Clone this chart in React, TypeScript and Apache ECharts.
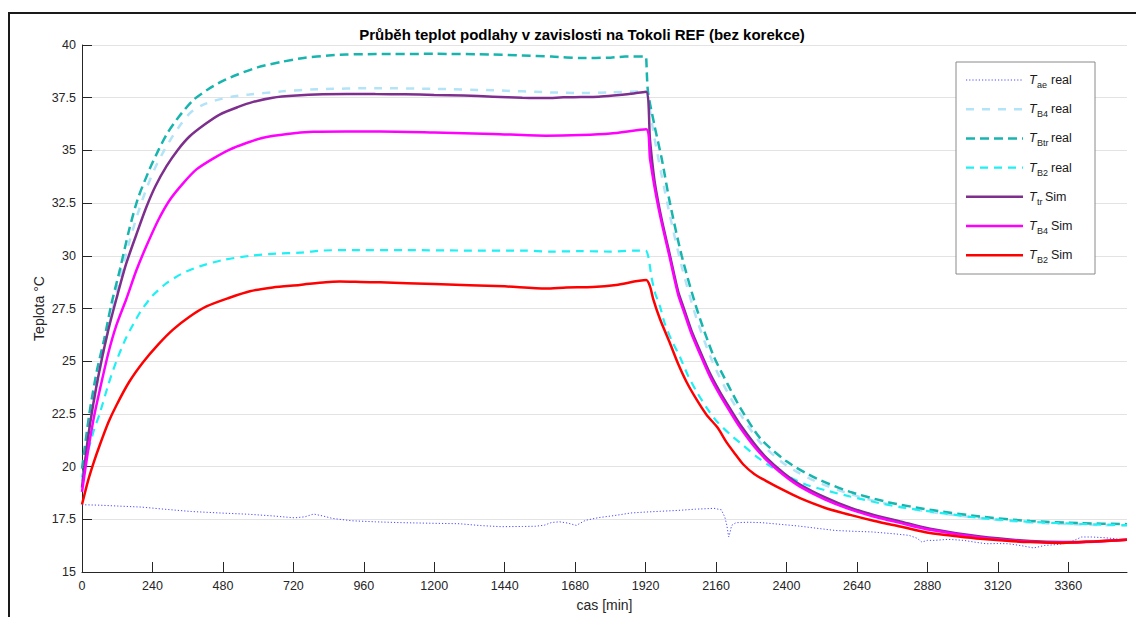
import React, { useEffect, useRef } from 'react';
import * as echarts from 'echarts';

const xTickValues = [0, 240, 480, 720, 960, 1200, 1440, 1680, 1920, 2160, 2400, 2640, 2880, 3120, 3360];
const xMax = 3560;
const yMin = 15;
const yMax = 40;
const yStep = 2.5;

const titleText = 'Průběh teplot podlahy v zavislosti na Tokoli REF (bez korekce)';
const xName = 'cas [min]';
const yName = 'Teplota °C';

// [time min, temperature °C]
const tAeReal: [number, number][] = [
  [0, 18.19], [60, 18.17], [120, 18.13], [202, 18.08], [280, 17.98], [372, 17.87], [470, 17.8], [567, 17.74],
  [650, 17.66], [724, 17.57], [760, 17.62], [789, 17.75], [820, 17.66], [854, 17.54], [919, 17.43], [1000, 17.38],
  [1089, 17.34], [1200, 17.31], [1285, 17.29], [1360, 17.2], [1428, 17.15], [1500, 17.16], [1545, 17.17],
  [1575, 17.22], [1600, 17.35], [1627, 17.38], [1655, 17.32], [1684, 17.21], [1715, 17.45], [1760, 17.58],
  [1815, 17.68], [1870, 17.8], [1915, 17.84], [1970, 17.88], [2028, 17.92], [2090, 17.98], [2153, 18.02],
  [2178, 17.95], [2190, 17.6], [2197, 17.2], [2203, 16.66], [2208, 16.9], [2213, 17.21], [2228, 17.34],
  [2270, 17.36], [2316, 17.34], [2380, 17.26], [2441, 17.18], [2500, 17.08], [2566, 16.97], [2630, 16.93],
  [2692, 16.9], [2760, 16.82], [2817, 16.74], [2845, 16.6], [2861, 16.42], [2880, 16.5], [2904, 16.5],
  [2950, 16.55], [3004, 16.5], [3040, 16.42], [3080, 16.34], [3120, 16.35], [3155, 16.34], [3200, 16.25],
  [3242, 16.14], [3280, 16.26], [3320, 16.3], [3355, 16.37], [3380, 16.5], [3405, 16.66], [3440, 16.66],
  [3480, 16.63], [3520, 16.58], [3555, 16.5],
];

const tB4Real: [number, number][] = [
  [0, 19.3], [25, 21.8], [50, 23.8], [75, 25.6], [100, 27.2], [130, 29.0], [160, 30.6], [190, 32.0], [220, 33.2],
  [250, 34.2], [280, 35.0], [310, 35.7], [340, 36.3], [370, 36.8], [410, 37.15], [450, 37.35], [510, 37.55],
  [570, 37.65], [680, 37.8], [800, 37.9], [1000, 37.95], [1200, 37.92], [1400, 37.85], [1600, 37.75], [1700, 37.72],
  [1800, 37.75], [1920, 37.8], [1925, 37.7], [1950, 35.6], [1975, 33.8], [2003, 31.9], [2043, 29.5], [2094, 27.0],
  [2150, 24.9], [2200, 23.5], [2242, 22.5], [2310, 21.15], [2400, 20.05], [2500, 19.3], [2617, 18.7], [2750, 18.2],
  [2890, 17.85], [3060, 17.55], [3230, 17.35], [3400, 17.25], [3560, 17.2],
];

const tBtrReal: [number, number][] = [
  [0, 19.9], [25, 22.5], [50, 24.5], [75, 26.0], [100, 27.7], [130, 29.4], [160, 31.2], [190, 32.7], [230, 34.1],
  [260, 35.0], [290, 35.8], [330, 36.6], [380, 37.4], [430, 37.9], [480, 38.3], [530, 38.6], [600, 38.95],
  [680, 39.2], [760, 39.4], [840, 39.5], [900, 39.55], [1000, 39.57], [1200, 39.58], [1400, 39.55], [1500, 39.5],
  [1600, 39.45], [1700, 39.38], [1800, 39.4], [1850, 39.45], [1920, 39.45], [1922, 39.4], [1928, 37.8],
  [1950, 36.2], [1975, 34.6], [2003, 32.5], [2043, 30.0], [2094, 27.5], [2150, 25.3], [2200, 23.9], [2242, 22.8],
  [2310, 21.35], [2400, 20.25], [2500, 19.45], [2617, 18.8], [2750, 18.3], [2890, 17.95], [3060, 17.63],
  [3230, 17.42], [3400, 17.32], [3560, 17.27],
];

const tB2Real: [number, number][] = [
  [0, 19.5], [20, 20.7], [40, 21.7], [60, 22.5], [90, 23.9], [117, 25.0], [150, 26.1], [197, 27.3], [240, 28.1],
  [288, 28.7], [340, 29.15], [401, 29.5], [480, 29.8], [572, 30.0], [660, 30.1], [742, 30.15], [821, 30.25],
  [900, 30.27], [1100, 30.27], [1300, 30.25], [1500, 30.25], [1600, 30.2], [1700, 30.22], [1800, 30.2],
  [1880, 30.25], [1920, 30.25], [1930, 29.9], [1940, 29.0], [1952, 28.25], [1969, 27.6], [1985, 26.8],
  [2010, 25.95], [2037, 25.2], [2065, 24.3], [2094, 23.55], [2130, 22.75], [2162, 22.15], [2210, 21.5],
  [2253, 21.0], [2300, 20.45], [2355, 19.93], [2410, 19.5], [2469, 19.13], [2540, 18.85], [2617, 18.58],
  [2719, 18.26], [2787, 18.08], [2900, 17.85], [3060, 17.56], [3230, 17.38], [3400, 17.28], [3560, 17.22],
];

const tTrSim: [number, number][] = [
  [0, 19.0], [20, 21.3], [40, 23.1], [60, 24.6], [90, 26.5], [117, 27.95], [150, 29.6], [185, 31.0], [219, 32.3],
  [250, 33.3], [288, 34.25], [325, 35.0], [367, 35.67], [420, 36.25], [469, 36.7], [530, 37.05], [583, 37.3],
  [650, 37.5], [731, 37.6], [820, 37.66], [901, 37.68], [1000, 37.67], [1100, 37.66], [1200, 37.63], [1300, 37.6],
  [1400, 37.55], [1500, 37.5], [1580, 37.48], [1640, 37.52], [1700, 37.53], [1760, 37.55], [1820, 37.62],
  [1880, 37.7], [1922, 37.78], [1935, 35.5], [1950, 33.6], [1965, 32.4], [1980, 31.4], [2000, 30.2],
  [2031, 28.3], [2048, 27.6], [2075, 26.5], [2105, 25.5], [2140, 24.4], [2173, 23.55], [2210, 22.7],
  [2242, 22.0], [2290, 21.1], [2333, 20.4], [2390, 19.7], [2446, 19.15], [2530, 18.55], [2617, 18.05],
  [2700, 17.7], [2787, 17.4], [2889, 17.05], [3060, 16.68], [3230, 16.47], [3345, 16.42], [3450, 16.45],
  [3560, 16.53],
];

const tB4Sim: [number, number][] = [
  [0, 18.8], [20, 20.7], [40, 22.3], [60, 23.6], [90, 25.4], [117, 26.7], [151, 27.95], [185, 29.3], [219, 30.45],
  [260, 31.7], [299, 32.65], [345, 33.45], [390, 34.1], [445, 34.6], [503, 35.04], [560, 35.35], [617, 35.6],
  [700, 35.78], [787, 35.88], [900, 35.9], [1015, 35.9], [1200, 35.85], [1400, 35.78], [1580, 35.7],
  [1700, 35.73], [1800, 35.8], [1922, 36.0], [1935, 34.6], [1950, 33.3], [1965, 32.2], [1980, 31.25],
  [2000, 30.05], [2031, 28.15], [2048, 27.45], [2075, 26.35], [2105, 25.35], [2140, 24.25], [2173, 23.4],
  [2210, 22.55], [2242, 21.85], [2290, 20.95], [2333, 20.3], [2390, 19.6], [2446, 19.05], [2530, 18.45],
  [2617, 17.97], [2700, 17.62], [2787, 17.33], [2889, 17.0], [3060, 16.64], [3230, 16.44], [3345, 16.4],
  [3450, 16.44], [3560, 16.53],
];

const tB2Sim: [number, number][] = [
  [0, 18.2], [20, 19.3], [40, 20.2], [60, 21.0], [90, 22.1], [117, 22.9], [160, 24.0], [208, 24.95], [260, 25.8],
  [310, 26.5], [365, 27.1], [424, 27.6], [500, 28.0], [572, 28.32], [650, 28.5], [742, 28.62], [830, 28.75],
  [878, 28.78], [950, 28.76], [1015, 28.74], [1200, 28.66], [1440, 28.55], [1580, 28.45], [1650, 28.5],
  [1740, 28.52], [1820, 28.62], [1922, 28.85], [1935, 28.55], [1946, 27.95], [1969, 27.0], [2003, 25.85],
  [2030, 24.9], [2060, 24.0], [2095, 23.15], [2128, 22.45], [2165, 21.85], [2196, 21.15], [2225, 20.6],
  [2253, 20.1], [2290, 19.65], [2333, 19.3], [2390, 18.88], [2446, 18.5], [2530, 18.05], [2617, 17.71],
  [2700, 17.42], [2787, 17.16], [2889, 16.85], [2980, 16.7], [3060, 16.58], [3150, 16.48], [3230, 16.42],
  [3340, 16.38], [3450, 16.45], [3560, 16.53],
];

const seriesNames = ['T_ae real', 'T_B4 real', 'T_Btr real', 'T_B2 real', 'T_tr Sim', 'T_B4 Sim', 'T_B2 Sim'];
const legendSubs = ['ae', 'B4', 'Btr', 'B2', 'tr', 'B4', 'B2'];
const legendSuffix = ['real', 'real', 'real', 'real', 'Sim', 'Sim', 'Sim'];

export default function App() {
  const ref = useRef<HTMLDivElement>(null);
  useEffect(() => {
    document.body.style.margin = '0';
    const chart = echarts.init(ref.current!, null, { renderer: 'svg' });

    const styles = [
      { color: '#4a4aff', width: 1, type: [1.2, 2], smooth: false },
      { color: '#b2e3f7', width: 2.5, type: [8, 8], smooth: true },
      { color: '#18b4ae', width: 2.5, type: [9, 5], smooth: true },
      { color: '#1ff0f4', width: 2.2, type: [8, 6], smooth: true },
      { color: '#7e2f8e', width: 2.5, type: 'solid', smooth: true },
      { color: '#ff00ff', width: 2.5, type: 'solid', smooth: true },
      { color: '#ff0000', width: 2.5, type: 'solid', smooth: true },
    ];
    const datasets = [tAeReal, tB4Real, tBtrReal, tB2Real, tTrSim, tB4Sim, tB2Sim];

    const series = datasets.map((d, i) => ({
      type: 'line',
      name: seriesNames[i],
      data: d,
      showSymbol: false,
      symbol: 'none',
      smooth: styles[i].smooth ? 0.25 : false,
      lineStyle: { color: styles[i].color, width: styles[i].width, type: styles[i].type },
      z: 2 + i,
    }));

    const font = 'Liberation Sans, Arial, sans-serif';
    const legendLeft = 956;
    const legendTop = 62;
    const rowGap = 29.2;
    const firstRow = 80;
    const legendGraphics: any[] = [
      {
        type: 'rect',
        shape: { x: legendLeft, y: legendTop, width: 139, height: 212 },
        style: { fill: '#ffffff', stroke: '#8a8a8a', lineWidth: 1 },
        z: 100,
      },
    ];
    styles.forEach((s, i) => {
      const cy = firstRow + i * rowGap;
      legendGraphics.push({
        type: 'line',
        shape: { x1: 966, y1: cy, x2: 1023, y2: cy },
        style: {
          stroke: s.color,
          lineWidth: s.width,
          lineDash: s.type === 'solid' ? null : s.type,
        },
        z: 101,
      });
      legendGraphics.push({
        type: 'text',
        x: 1029,
        y: cy,
        style: { text: 'T', font: `italic 12.5px ${font}`, fill: '#1a1a1a', verticalAlign: 'middle', align: 'left' },
        z: 101,
      });
      legendGraphics.push({
        type: 'text',
        x: 1037,
        y: cy + 5,
        style: { text: legendSubs[i], font: `9px ${font}`, fill: '#1a1a1a', verticalAlign: 'middle', align: 'left' },
        z: 101,
      });
      legendGraphics.push({
        type: 'text',
        x: legendSubs[i] === 'tr' ? 1045 : 1051,
        y: cy,
        style: { text: legendSuffix[i], font: `12.5px ${font}`, fill: '#1a1a1a', verticalAlign: 'middle', align: 'left' },
        z: 101,
      });
    });

    chart.setOption({
      animation: false,
      backgroundColor: '#ffffff',
      textStyle: { fontFamily: font },
      title: {
        text: titleText,
        left: 577,
        top: 22,
        textAlign: 'center',
        textStyle: { fontSize: 15, fontWeight: 'bold', color: '#000000', fontFamily: font },
      },
      grid: { left: 82, right: 9, top: 45, bottom: 44, containLabel: false },
      xAxis: {
        type: 'value',
        min: 0,
        max: xMax,
        name: xName,
        nameLocation: 'middle',
        nameGap: 26,
        nameTextStyle: { fontSize: 14, color: '#262626' },
        axisLine: { show: true, lineStyle: { color: '#262626', width: 1 } },
        axisTick: { show: true, inside: true, length: 10, customValues: xTickValues, lineStyle: { color: '#262626' } },
        axisLabel: {
          customValues: xTickValues,
          fontSize: 12.5,
          color: '#262626',
          margin: 7,
          formatter: (v: number) => String(v),
        },
        splitLine: { show: false },
      },
      yAxis: {
        type: 'value',
        min: yMin,
        max: yMax,
        interval: yStep,
        name: yName,
        nameLocation: 'middle',
        nameGap: 36,
        nameMoveOverlap: false,
        nameTextStyle: { fontSize: 14, color: '#262626' },
        axisLine: { show: true, lineStyle: { color: '#262626', width: 1 } },
        axisTick: { show: true, inside: true, length: 10, lineStyle: { color: '#262626' } },
        axisLabel: { fontSize: 12.5, color: '#262626', margin: 6, formatter: (v: number) => String(v) },
        splitLine: { show: true, lineStyle: { color: '#e3e3e3', width: 1 } },
      },
      series,
      graphic: [
        { type: 'line', shape: { x1: 8, y1: 13, x2: 1136, y2: 13 }, style: { stroke: '#1a1a1a', lineWidth: 2 }, z: 200 },
        { type: 'line', shape: { x1: 9, y1: 13, x2: 9, y2: 617 }, style: { stroke: '#1a1a1a', lineWidth: 2 }, z: 200 },
        ...legendGraphics,
      ],
    });
    return () => chart.dispose();
  }, []);
  return <div ref={ref} style={{ width: 1136, height: 617 }} />;
}
